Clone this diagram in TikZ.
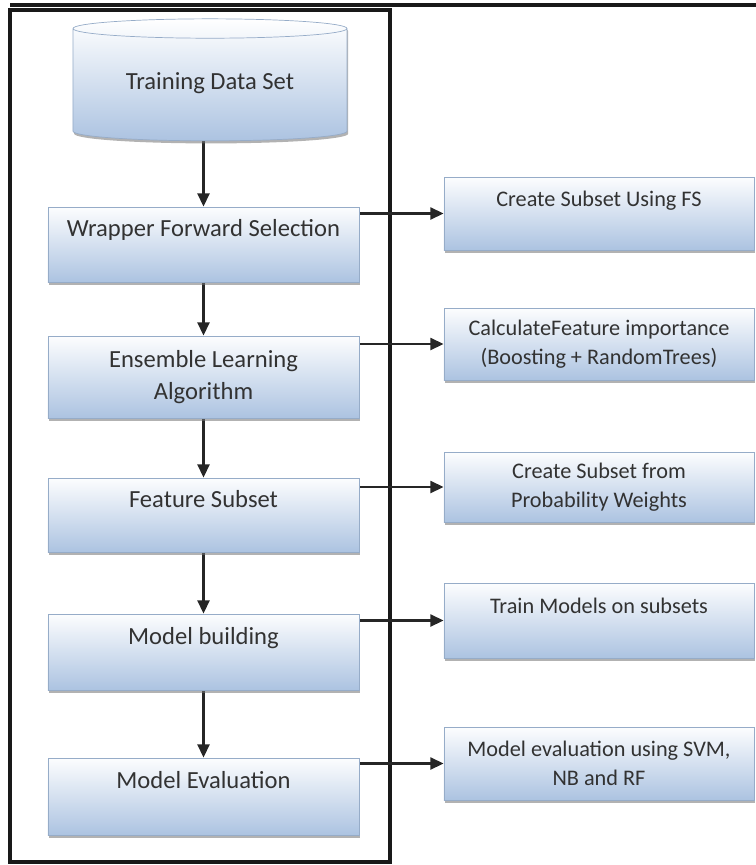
\documentclass[tikz,border=0pt]{standalone}
\usepackage{fontspec}
\setmainfont{Carlito}
\usetikzlibrary{shapes.geometric,shadows,arrows.meta}
\definecolor{boxblue}{RGB}{172,195,225}
\definecolor{boxline}{RGB}{150,172,200}
\definecolor{inkgray}{RGB}{50,50,50}
\pgfdeclarelayer{nodelayer}
\pgfdeclarelayer{edgelayer}
\pgfsetlayers{edgelayer,nodelayer,main}
\tikzstyle{flow box}=[shape=rectangle, draw=boxline, line width=0.6pt, top color=white!97!boxblue, bottom color=boxblue, drop shadow={shadow xshift=1pt, shadow yshift=-2.2pt, fill=black!55, opacity=0.55}, text=inkgray, align=center, minimum width=9.33cm, font=\fontsize{21}{28}\selectfont]
\tikzstyle{side box}=[style=flow box, minimum width=9.3cm, font=\fontsize{19}{24.7}\selectfont]
\tikzstyle{data store}=[shape=cylinder, shape border rotate=90, aspect=0.11, draw=boxline, line width=0.6pt, top color=white, bottom color=boxblue, drop shadow={shadow xshift=1pt, shadow yshift=-2.2pt, fill=black!55, opacity=0.55}, text=inkgray, minimum width=8.22cm, minimum height=3.66cm, font=\fontsize{21}{28}\selectfont]
\tikzstyle{flow edge}=[-{Triangle[length=0.4cm,width=0.36cm]}, line width=2pt, draw=black!85, fill=black!85]
\tikzstyle{frame line}=[line width=3pt, draw=black!90]

\begin{document}
\begin{tikzpicture}[x=0.03cm, y=-0.03cm]
    	\useasboundingbox (0, 0) rectangle (756, 865);
    	\begin{pgfonlayer}{nodelayer}
    		\node [style=data store] (tds) at (210, 86) {\raisebox{8pt}{Training Data Set}};
    		\node [style=flow box, minimum height=2.25cm] (wfs) at (203.5, 244.5) {Wrapper Forward Selection\\~};
    		\node [style=flow box, minimum height=2.46cm] (ela) at (203.5, 377) {Ensemble Learning\\Algorithm};
    		\node [style=flow box, minimum height=2.22cm] (fsub) at (203.5, 515) {Feature Subset\\~};
    		\node [style=flow box, minimum height=2.28cm] (mbld) at (203.5, 652) {Model building\\~};
    		\node [style=flow box, minimum height=2.31cm] (meval) at (203.5, 796.5) {Model Evaluation\\~};
    		\node [style=side box, minimum height=2.19cm] (csfs) at (599, 213.5) {Create Subset Using FS\\~};
    		\node [style=side box, minimum height=2.16cm] (cfi) at (599, 344) {CalculateFeature importance\\(Boosting + RandomTrees)};
    		\node [style=side box, minimum height=2.1cm] (cspw) at (599, 487) {Create Subset from\\Probability Weights};
    		\node [style=side box, minimum height=2.25cm] (tms) at (599, 620.5) {Train Models on subsets\\~};
    		\node [style=side box, minimum height=2.19cm] (mesvm) at (599, 763.5) {Model evaluation using SVM,\\NB and RF};
    	\end{pgfonlayer}
    	\begin{pgfonlayer}{edgelayer}
    		\draw [style=frame line] (10, 5) -- (756, 5);
    		\draw [style=frame line] (10, 10) rectangle (390, 862);
    		\draw [style=flow edge] (wfs.north |- tds.south) to (wfs.north);
    		\draw [style=flow edge] (wfs) to (ela);
    		\draw [style=flow edge] (ela) to (fsub);
    		\draw [style=flow edge] (fsub) to (mbld);
    		\draw [style=flow edge] (mbld) to (meval);
    		\draw [style=flow edge] (csfs.west -| wfs.east) to (csfs.west);
    		\draw [style=flow edge] (cfi.west -| ela.east) to (cfi.west);
    		\draw [style=flow edge] (cspw.west -| fsub.east) to (cspw.west);
    		\draw [style=flow edge] (tms.west -| mbld.east) to (tms.west);
    		\draw [style=flow edge] (mesvm.west -| meval.east) to (mesvm.west);
    	\end{pgfonlayer}
    \end{tikzpicture}
\end{document}
